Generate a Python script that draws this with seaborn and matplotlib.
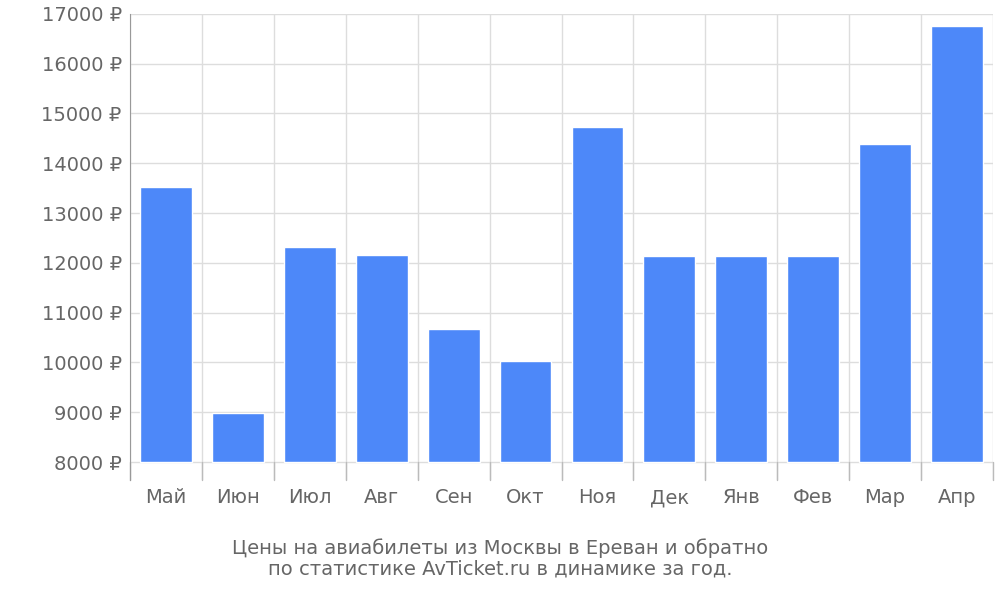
import matplotlib
matplotlib.use("Agg")
import matplotlib.pyplot as plt
import seaborn as sns
import pandas as pd

months = ["Май", "Июн", "Июл", "Авг", "Сен", "Окт", "Ноя", "Дек", "Янв", "Фев", "Мар", "Апр"]
prices = [13520, 8990, 12320, 12150, 10670, 10020, 14720, 12140, 12140, 12140, 14380, 16760]
yticks = list(range(8000, 17001, 1000))
base = 8000

sns.set_style("white")
plt.rcParams['font.family'] = ['DejaVu Sans']
fig = plt.figure(figsize=(10, 6), dpi=100)
ax = fig.add_axes([0.13, 0.2, 0.863, 0.777])
df = pd.DataFrame({"m": months, "p": prices})
sns.barplot(data=df, x="m", y="p", color="#4d88f9", saturation=1, width=0.72, ax=ax, zorder=3)
for patch, v in zip(ax.patches, prices):
    patch.set_y(base)
    patch.set_height(v - base)
ax.set_ylim(7640, 17000)
ax.set_xlim(-0.5, len(months) - 0.5)
ax.set_yticks(yticks)
ax.set_yticklabels([f"{t} ₽" for t in yticks])
ax.set_xticks(range(len(months)))
ax.set_xticklabels(months)
for t in yticks:
    ax.axhline(t, color="#dddddd", lw=1, zorder=1)
for i in range(len(months) + 1):
    ax.axvline(i - 0.5, color="#dddddd", lw=1, zorder=1)
    ax.plot([i - 0.5, i - 0.5], [7640, base], color="#bbbbbb", lw=1, zorder=2, clip_on=False)
ax.tick_params(axis="both", length=0, labelsize=14, labelcolor="#666666", pad=6)
for s in ["top", "right", "bottom"]:
    ax.spines[s].set_visible(False)
ax.spines["left"].set_color("#999999")
ax.set_xlabel("")
ax.set_ylabel("")
fig.text(0.5, 0.07, "Цены на авиабилеты из Москвы в Ереван и обратно\nпо статистике AvTicket.ru в динамике за год.",
         ha="center", va="center", fontsize=14, color="#666666", linespacing=1.1)
fig.savefig("out.png")
